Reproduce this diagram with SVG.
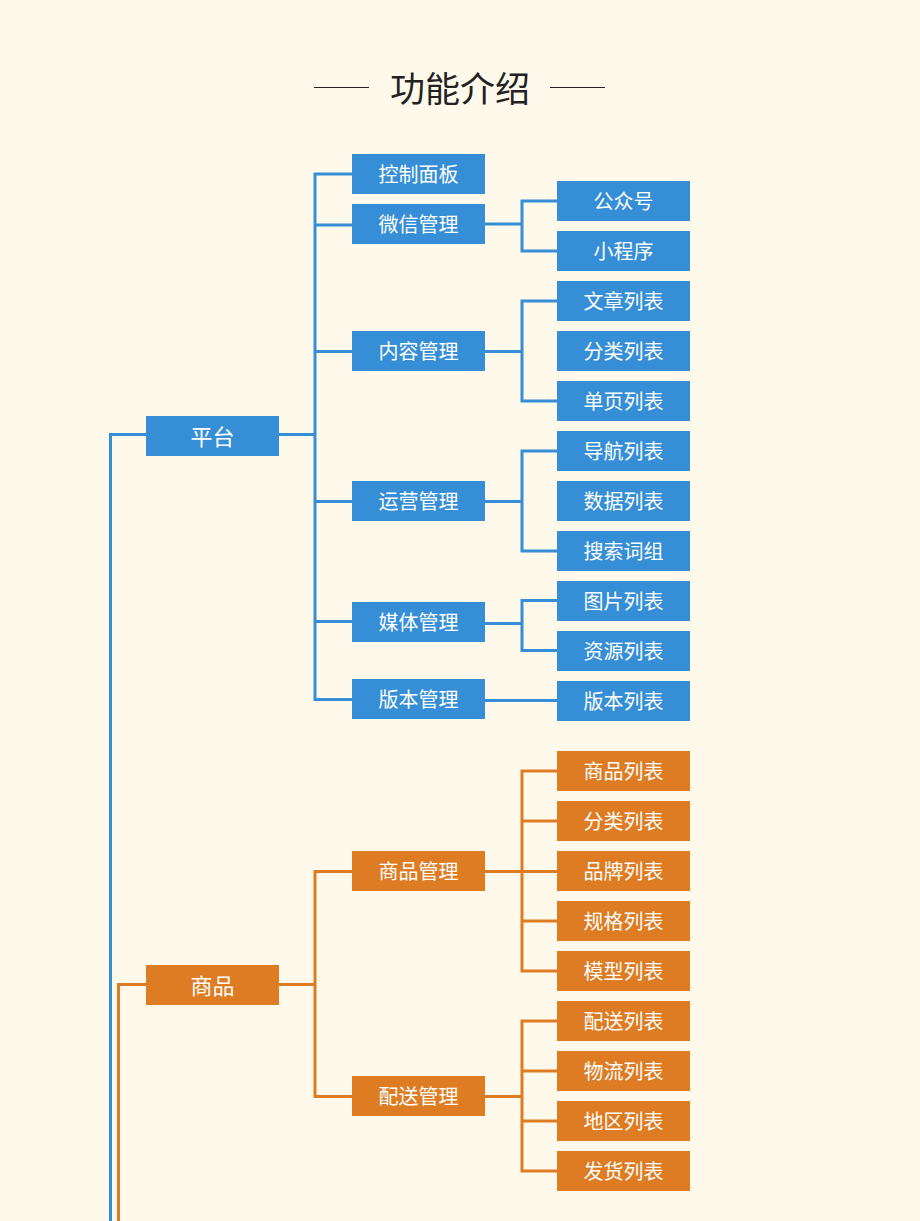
<svg xmlns="http://www.w3.org/2000/svg" width="920" height="1221" viewBox="0 0 920 1221">
  <style>
    .bg { fill: #FEF9EA; }
    .title { font-family: "Noto Sans CJK SC", "Noto Sans", sans-serif; font-size: 35px; fill: #222; }
    .rule { stroke: #222; stroke-width: 1.2; }
    .blue rect { fill: #368ED6; }
    .orange rect { fill: #DD7C22; }
    .node rect { width: 133px; height: 40px; }
    .node text { font-family: "Noto Sans CJK SC", "Noto Sans", sans-serif; font-size: 20px; fill: #fff; text-anchor: middle; dominant-baseline: central; }
    .node.top text { font-size: 22px; }
    .wire { fill: none; stroke-width: 3; }
    .wire.b { stroke: #368ED6; }
    .wire.o { stroke: #DD7C22; }
  </style>
  <rect class="bg" width="920" height="1221"/>

  <!-- heading -->
  <g id="heading">
    <line class="rule" x1="314" y1="87.5" x2="369" y2="87.5"/>
    <line class="rule" x1="550" y1="87.5" x2="605" y2="87.5"/>
    <text class="title" x="460" y="86" text-anchor="middle" dominant-baseline="central">功能介绍</text>
  </g>

  <!-- connectors -->
  <g id="connectors">
    <!-- root trunks -->
    <path class="wire b" d="M146 434.5 H110.5 V1221"/>
    <path class="wire o" d="M146 984.5 H118.5 V1221"/>
    <!-- 平台 branches -->
    <path class="wire b" d="M279 434.5 H315"/>
    <path class="wire b" d="M352 174 H315 V699.5 H352"/>
    <path class="wire b" d="M315 225 H352 M315 351.5 H352 M315 501.5 H352 M315 621.5 H352"/>
    <!-- 微信管理 -->
    <path class="wire b" d="M485 224 H522 M557 201 H522 V251 H557"/>
    <!-- 内容管理 -->
    <path class="wire b" d="M485 351.5 H522 M557 301 H522 V401 H557"/>
    <!-- 运营管理 -->
    <path class="wire b" d="M485 501.5 H522 M557 451 H522 V551 H557"/>
    <!-- 媒体管理 -->
    <path class="wire b" d="M485 623.5 H522 M557 600.5 H522 V650.5 H557"/>
    <!-- 版本管理 -->
    <path class="wire b" d="M485 700.5 H557"/>
    <!-- 商品 branches -->
    <path class="wire o" d="M279 984.5 H315"/>
    <path class="wire o" d="M352 871.5 H315 V1096.5 H352"/>
    <!-- 商品管理 -->
    <path class="wire o" d="M485 871.5 H522 M557 771 H522 V971 H557 M522 821 H557 M522 871.5 H557 M522 921 H557"/>
    <!-- 配送管理 -->
    <path class="wire o" d="M485 1096.5 H522 M557 1021 H522 V1171 H557 M522 1071 H557 M522 1121 H557"/>
  </g>

  <!-- level 1 -->
  <g id="n-pingtai" class="node top blue"><rect x="146" y="416"/><text x="212.5" y="435">平台</text></g>
  <g id="n-shangpin" class="node top orange"><rect x="146" y="965"/><text x="212.5" y="984">商品</text></g>

  <!-- level 2 -->
  <g id="n-kongzhi" class="node blue"><rect x="352" y="154"/><text x="418.5" y="173">控制面板</text></g>
  <g id="n-weixin" class="node blue"><rect x="352" y="204"/><text x="418.5" y="223">微信管理</text></g>
  <g id="n-neirong" class="node blue"><rect x="352" y="331"/><text x="418.5" y="350">内容管理</text></g>
  <g id="n-yunying" class="node blue"><rect x="352" y="481"/><text x="418.5" y="500">运营管理</text></g>
  <g id="n-meiti" class="node blue"><rect x="352" y="602"/><text x="418.5" y="621">媒体管理</text></g>
  <g id="n-banben" class="node blue"><rect x="352" y="679"/><text x="418.5" y="698">版本管理</text></g>
  <g id="n-spgl" class="node orange"><rect x="352" y="851"/><text x="418.5" y="870">商品管理</text></g>
  <g id="n-psgl" class="node orange"><rect x="352" y="1076"/><text x="418.5" y="1095">配送管理</text></g>

  <!-- level 3 -->
  <g id="n-gzh" class="node blue"><rect x="557" y="181"/><text x="623.5" y="200">公众号</text></g>
  <g id="n-xcx" class="node blue"><rect x="557" y="231"/><text x="623.5" y="250">小程序</text></g>
  <g id="n-wzlb" class="node blue"><rect x="557" y="281"/><text x="623.5" y="300">文章列表</text></g>
  <g id="n-fllb" class="node blue"><rect x="557" y="331"/><text x="623.5" y="350">分类列表</text></g>
  <g id="n-dylb" class="node blue"><rect x="557" y="381"/><text x="623.5" y="400">单页列表</text></g>
  <g id="n-dhlb" class="node blue"><rect x="557" y="431"/><text x="623.5" y="450">导航列表</text></g>
  <g id="n-sjlb" class="node blue"><rect x="557" y="481"/><text x="623.5" y="500">数据列表</text></g>
  <g id="n-sscz" class="node blue"><rect x="557" y="531"/><text x="623.5" y="550">搜索词组</text></g>
  <g id="n-tplb" class="node blue"><rect x="557" y="581"/><text x="623.5" y="600">图片列表</text></g>
  <g id="n-zylb" class="node blue"><rect x="557" y="631"/><text x="623.5" y="650">资源列表</text></g>
  <g id="n-bblb" class="node blue"><rect x="557" y="681"/><text x="623.5" y="700">版本列表</text></g>

  <g id="n-splb" class="node orange"><rect x="557" y="751"/><text x="623.5" y="770">商品列表</text></g>
  <g id="n-fllb2" class="node orange"><rect x="557" y="801"/><text x="623.5" y="820">分类列表</text></g>
  <g id="n-pplb" class="node orange"><rect x="557" y="851"/><text x="623.5" y="870">品牌列表</text></g>
  <g id="n-gglb" class="node orange"><rect x="557" y="901"/><text x="623.5" y="920">规格列表</text></g>
  <g id="n-mxlb" class="node orange"><rect x="557" y="951"/><text x="623.5" y="970">模型列表</text></g>
  <g id="n-pslb" class="node orange"><rect x="557" y="1001"/><text x="623.5" y="1020">配送列表</text></g>
  <g id="n-wllb" class="node orange"><rect x="557" y="1051"/><text x="623.5" y="1070">物流列表</text></g>
  <g id="n-dqlb" class="node orange"><rect x="557" y="1101"/><text x="623.5" y="1120">地区列表</text></g>
  <g id="n-fhlb" class="node orange"><rect x="557" y="1151"/><text x="623.5" y="1170">发货列表</text></g>
</svg>
